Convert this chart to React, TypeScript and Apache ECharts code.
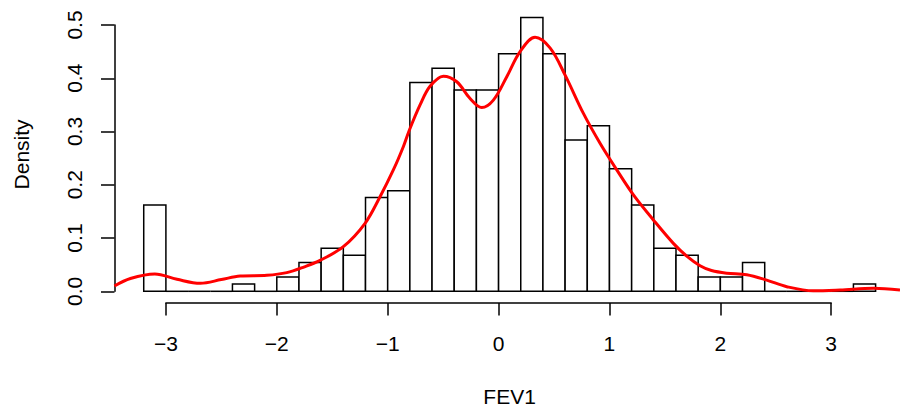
import React, { useEffect, useRef } from "react";
import * as echarts from "echarts";

// Histogram bins (left edge, width 0.2) and density heights
const binLeft = [
  -3.2, -3.0, -2.8, -2.6, -2.4, -2.2, -2.0, -1.8, -1.6, -1.4, -1.2, -1.0, -0.8,
  -0.6, -0.4, -0.2, 0.0, 0.2, 0.4, 0.6, 0.8, 1.0, 1.2, 1.4, 1.6, 1.8, 2.0, 2.2,
  2.4, 2.6, 2.8, 3.0, 3.2,
];
const binWidth = 0.2;
const binDensity = [
  0.162, 0, 0, 0, 0.0135, 0, 0.027, 0.054, 0.081, 0.0676, 0.176, 0.189, 0.392,
  0.419, 0.378, 0.378, 0.446, 0.514, 0.446, 0.284, 0.311, 0.23, 0.162, 0.081,
  0.0676, 0.027, 0.027, 0.054, 0, 0, 0, 0, 0.0135,
];

// Kernel density curve (x, density)
const kdeX = [
  -3.464, -3.32, -3.1, -2.9, -2.69, -2.5, -2.33, -2.09, -1.91, -1.75, -1.61,
  -1.4, -1.204, -1.069, -0.949, -0.859, -0.804, -0.708, -0.618, -0.498, -0.377,
  -0.257, -0.152, -0.047, 0.074, 0.194, 0.329, 0.464, 0.6, 0.765, 0.915, 1.066,
  1.216, 1.396, 1.576, 1.697, 1.817, 1.92, 2.058, 2.238, 2.418, 2.599, 2.838,
  3.08, 3.38, 3.62,
];
const kdeY = [
  0.01, 0.024, 0.0325, 0.0225, 0.015, 0.022, 0.0287, 0.03, 0.035, 0.046, 0.058,
  0.0838, 0.1277, 0.1776, 0.2278, 0.2715, 0.303, 0.35, 0.385, 0.404, 0.3935,
  0.362, 0.345, 0.359, 0.403, 0.45, 0.477, 0.457, 0.406, 0.334, 0.278, 0.228,
  0.181, 0.134, 0.09, 0.066, 0.048, 0.039, 0.034, 0.031, 0.021, 0.0087, 0.001,
  0.0025, 0.0056, 0.0025,
];

const xTicks = { min: -3, max: 3, interval: 1 };
const yTicks = { min: 0, max: 0.5, interval: 0.1 };
const xTitle = "FEV1";
const yTitle = "Density";

const FONT = "'Liberation Sans', Arial, Helvetica, sans-serif";
const FS = 21;

export default function App() {
  const ref = useRef<HTMLDivElement>(null);
  useEffect(() => {
    document.body.style.margin = "0";
    document.body.style.overflow = "hidden";
    const chart = echarts.init(ref.current!, null, { renderer: "svg" });
    const histData = binLeft.map((l, i) => [l, l + binWidth, binDensity[i]]);
    const kdeData = kdeX.map((x, i) => [x, kdeY[i]]);
    const axisStyle = { color: "#000", width: 1.5 };
    chart.setOption({
      animation: false,
      backgroundColor: "#fff",
      grid: [
        { left: 114.45, top: 6.6, width: 785.55, height: 295.65 },
        { left: 165.9, top: 290, width: 665.3, height: 13 },
        { left: 114.5, top: 25, width: 20, height: 266.3 },
      ],
      xAxis: [
        { type: "value", gridIndex: 0, min: -3.464, max: 3.62, show: false },
        {
          type: "value",
          gridIndex: 1,
          position: "bottom",
          min: xTicks.min,
          max: xTicks.max,
          interval: xTicks.interval,
          axisLine: { show: true, lineStyle: axisStyle },
          axisTick: { show: true, length: 12.5, lineStyle: axisStyle },
          splitLine: { show: false },
          axisLabel: {
            color: "#000",
            fontSize: FS,
            fontFamily: FONT,
            margin: 30,
            formatter: (v: number) =>
              v < 0 ? "\u2212" + Math.abs(v) : String(v),
          },
        },
        { type: "value", gridIndex: 2, show: false },
      ],
      yAxis: [
        {
          type: "value",
          gridIndex: 0,
          min: -0.02056,
          max: 0.5346,
          show: false,
        },
        { type: "value", gridIndex: 1, show: false },
        {
          type: "value",
          gridIndex: 2,
          position: "left",
          min: yTicks.min,
          max: yTicks.max,
          interval: yTicks.interval,
          axisLine: { show: true, lineStyle: axisStyle },
          axisTick: { show: true, length: 13.5, lineStyle: axisStyle },
          splitLine: { show: false },
          axisLabel: {
            color: "#000",
            fontSize: FS,
            fontFamily: FONT,
            rotate: 90,
            margin: 29.5,
            formatter: (v: number) => v.toFixed(1),
          },
        },
      ],
      series: [
        {
          type: "custom",
          xAxisIndex: 0,
          yAxisIndex: 0,
          data: histData,
          z: 2,
          renderItem: (params: any, api: any) => {
            const x0 = api.value(0);
            const x1 = api.value(1);
            const h = api.value(2);
            const p0 = api.coord([x0, 0]);
            const p1 = api.coord([x1, h]);
            if (h <= 0) {
              return {
                type: "line",
                shape: { x1: p0[0], y1: p0[1], x2: p1[0], y2: p0[1] },
                style: { stroke: "#000", lineWidth: 1.5 },
              };
            }
            return {
              type: "rect",
              shape: {
                x: p0[0],
                y: p1[1],
                width: p1[0] - p0[0],
                height: p0[1] - p1[1],
              },
              style: { fill: "#fff", stroke: "#000", lineWidth: 1.5 },
            };
          },
        },
        {
          type: "line",
          xAxisIndex: 0,
          yAxisIndex: 0,
          data: kdeData,
          smooth: 0.35,
          showSymbol: false,
          symbol: "none",
          z: 5,
          lineStyle: { color: "#ff0000", width: 3 },
        },
      ],
      graphic: [
        {
          type: "text",
          x: 509.6,
          y: 396.7,
          style: {
            text: xTitle,
            fontSize: FS,
            fontFamily: FONT,
            fill: "#000",
            align: "center",
            verticalAlign: "middle",
          },
        },
        {
          type: "text",
          x: 21,
          y: 154.4,
          rotation: Math.PI / 2,
          style: {
            text: yTitle,
            fontSize: FS,
            fontFamily: FONT,
            fill: "#000",
            align: "center",
            verticalAlign: "middle",
          },
        },
      ],
    });
    return () => chart.dispose();
  }, []);
  return <div ref={ref} style={{ width: 900, height: 414 }} />;
}
